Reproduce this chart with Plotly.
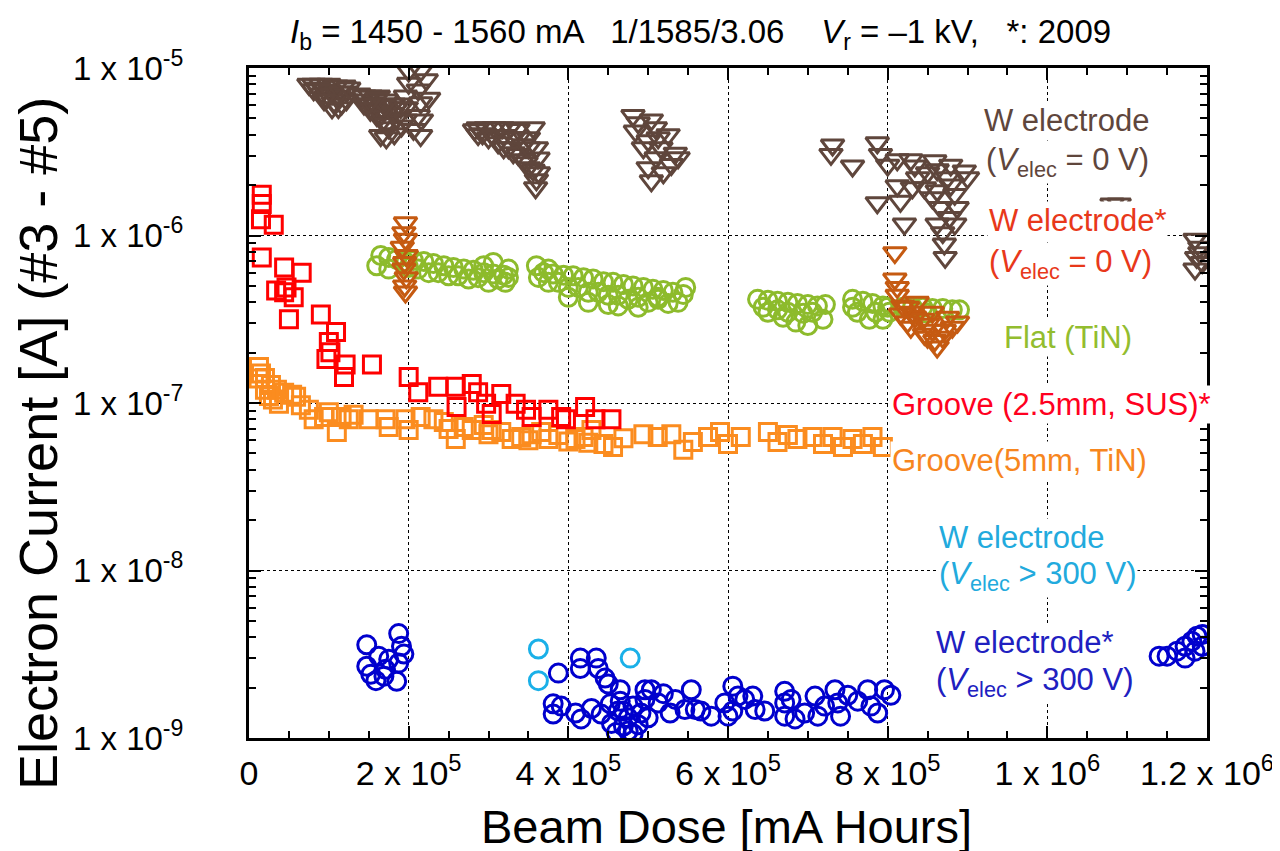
import plotly.graph_objects as go

# ---------------- data (Beam dose [mA h], electron current [A]) ----------------
w0_x = [81e3, 90e3, 100e3, 109e3, 119e3, 122e3, 81e3, 90e3, 97e3, 106e3, 112e3, 102e3, 112e3, 122e3, 116e3,
        85e3, 94e3, 104e3, 115e3, 125e3, 94e3, 104e3, 75e3,
        144e3, 152e3, 162e3, 172e3, 181e3, 190e3, 144e3, 152e3, 160e3, 167e3, 175e3, 165e3, 172e3, 185e3, 191e3, 182e3, 156e3, 169e3,
        137.5e3, 147.5e3, 157.5e3, 165e3, 172.5e3, 180e3, 187.5e3, 160e3, 170e3, 150e3,
        200e3, 215e3, 222e3, 200e3, 212e3, 196e3, 215e3, 225e3, 197e3, 212e3, 196e3, 216e3, 206e3, 215e3,
        287e3, 297e3, 307e3, 317e3, 327e3, 337e3, 287e3, 300e3, 312e3, 325e3, 337e3, 347e3, 356e3, 360e3, 359e3, 350e3, 360e3, 362e3, 344e3, 331e3, 319e3, 356e3,
        282.5e3, 292.5e3, 306e3, 319e3, 331e3, 344e3, 350e3, 337.5e3, 350e3, 362.5e3,
        481e3, 504e3, 484e3, 525e3, 534e3, 516e3, 500e3, 504e3, 529e3, 500e3, 509e3,
        487.5e3, 512.5e3, 494e3, 537.5e3, 510e3, 519e3,
        731e3, 729e3, 756e3, 787e3, 791e3, 800e3, 812e3, 829e3, 834e3, 859e3, 862e3, 879e3, 896e3, 900e3, 812e3, 831e3, 787e3, 816e3, 821e3,
        862e3, 884e3, 866e3, 887e3, 862e3, 884e3, 871e3, 872e3, 846e3, 879e3,
        850e3, 875e3, 856e3, 877.5e3, 869e3, 837.5e3,
        1081e3, 1090e3,
        1185e3, 1191e3, 1187e3, 1194e3, 1185e3, 1191e3]
w0_y = [8.0e-6, 8.0e-6, 8.0e-6, 7.8e-6, 7.8e-6, 7.2e-6, 7.4e-6, 7.0e-6, 6.6e-6, 6.2e-6, 5.8e-6, 7.2e-6, 6.8e-6, 6.45e-6, 6.1e-6,
        7.6e-6, 7.4e-6, 7.0e-6, 7.2e-6, 7.6e-6, 6.45e-6, 5.78e-6, 8.0e-6,
        6.8e-6, 6.8e-6, 6.8e-6, 6.45e-6, 6.1e-6, 5.8e-6, 6.1e-6, 5.6e-6, 5.2e-6, 4.8e-6, 4.4e-6, 3.95e-6, 3.83e-6, 5.0e-6, 4.5e-6, 4.05e-6, 6.2e-6, 5.55e-6,
        7.0e-6, 6.45e-6, 5.78e-6, 5.2e-6, 4.65e-6, 5.35e-6, 6.1e-6, 6.63e-6, 5.95e-6, 6.1e-6,
        9.6e-6, 9.6e-6, 8.5e-6, 8.1e-6, 7.4e-6, 6.8e-6, 6.2e-6, 6.6e-6, 5.8e-6, 5.2e-6, 4.9e-6, 4.9e-6, 4.3e-6, 3.95e-6,
        4.4e-6, 4.4e-6, 4.4e-6, 4.4e-6, 4.4e-6, 4.3e-6, 4.0e-6, 3.83e-6, 3.58e-6, 3.34e-6, 3.05e-6, 2.72e-6, 2.45e-6, 2.15e-6, 1.93e-6, 3.83e-6, 3.34e-6, 2.9e-6, 3.48e-6, 3.83e-6, 3.95e-6, 4.4e-6,
        4.28e-6, 4.05e-6, 3.95e-6, 3.34e-6, 3.12e-6, 2.83e-6, 2.54e-6, 3.83e-6, 3.34e-6, 2.37e-6,
        5.2e-6, 4.9e-6, 4.2e-6, 4.0e-6, 3.1e-6, 3.34e-6, 2.54e-6, 2.12e-6, 2.65e-6, 3.68e-6, 4.4e-6,
        4.71e-6, 3.83e-6, 3.34e-6, 2.91e-6, 2.91e-6, 2.37e-6,
        3.47e-6, 3.05e-6, 2.6e-6, 3.58e-6, 3.05e-6, 2.63e-6, 2.83e-6, 2.83e-6, 2.6e-6, 2.79e-6, 2.47e-6, 2.63e-6, 2.43e-6, 2.21e-6, 1.98e-6, 1.93e-6, 1.57e-6, 1.6e-6, 1.17e-6,
        1.85e-6, 1.76e-6, 1.47e-6, 1.47e-6, 1.17e-6, 1.17e-6, 8.9e-7, 7.4e-7, 1.93e-6, 2.0e-6,
        2.37e-6, 2.21e-6, 1.68e-6, 1.28e-6, 1.04e-6, 2.21e-6,
        1.54e-6, 1.54e-6,
        9.5e-7, 8.5e-7, 7.4e-7, 6.9e-7, 6.3e-7, 7.9e-7]

w0s_x = [196e3, 194e3, 196e3, 192e3, 197e3, 195e3, 194e3, 197e3, 195e3, 196e3,
         809e3, 809e3, 812e3, 812e3, 825e3, 834e3, 850e3, 859e3, 871e3, 881e3, 862e3, 846e3, 829e3, 816e3, 837e3, 856e3, 875e3,
         819e3, 831e3, 844e3, 856e3, 869e3, 850e3, 887.5e3, 825e3]
w0s_y = [1.19e-6, 1.04e-6, 9.5e-7, 8.5e-7, 7.6e-7, 6.9e-7, 6.3e-7, 5.6e-7, 5.0e-7, 4.6e-7,
         7.9e-7, 5.5e-7, 4.9e-7, 4.4e-7, 3.73e-7, 3.25e-7, 2.95e-7, 2.36e-7, 2.72e-7, 2.83e-7, 2.16e-7, 2.57e-7, 2.83e-7, 3.4e-7, 3.99e-7, 3.48e-7, 3.25e-7,
         3.8e-7, 3.48e-7, 3.16e-7, 2.72e-7, 2.47e-7, 2.47e-7, 3.04e-7, 3.04e-7]

flat_x = [165e3, 175e3, 185e3, 195e3, 206e3, 219e3, 231e3, 244e3, 256e3, 269e3, 281e3, 294e3, 306e3, 319e3, 325e3, 306e3, 212e3, 237e3, 262e3, 287e3, 312e3, 321e3, 294e3,
          175e3, 200e3, 225e3, 250e3, 275e3, 300e3, 160e3, 325e3,
          360e3, 369e3, 381e3, 394e3, 406e3, 419e3, 431e3, 444e3, 456e3, 469e3, 481e3, 494e3, 506e3, 519e3, 531e3, 544e3, 547e3, 375e3, 400e3, 425e3, 450e3, 475e3, 500e3, 525e3, 400e3, 450e3, 512e3,
          362.5e3, 387.5e3, 412.5e3, 437.5e3, 462.5e3, 487.5e3, 512.5e3, 537.5e3, 462.5e3, 487.5e3, 425e3, 375e3,
          637e3, 650e3, 662e3, 675e3, 687e3, 700e3, 712e3, 722e3, 650e3, 669e3, 685e3, 700e3, 694e3, 662e3,
          644e3, 675e3, 706e3, 719e3,
          756e3, 769e3, 781e3, 794e3, 800e3, 762e3, 777e3, 794e3, 802e3, 756e3, 785e3,
          819e3, 831e3, 844e3, 856e3, 869e3, 881e3, 890e3, 850e3]
flat_y = [7.6e-7, 7.4e-7, 7.2e-7, 7.0e-7, 7.1e-7, 7.0e-7, 6.8e-7, 6.6e-7, 6.45e-7, 6.3e-7, 6.2e-7, 6.0e-7, 5.9e-7, 5.8e-7, 6.3e-7, 6.9e-7, 6.3e-7, 6.0e-7, 5.75e-7, 5.6e-7, 5.5e-7, 5.25e-7, 6.6e-7,
          6.3e-7, 6.45e-7, 6.0e-7, 5.75e-7, 5.5e-7, 5.25e-7, 6.6e-7, 5.62e-7,
          6.6e-7, 6.0e-7, 5.9e-7, 5.8e-7, 5.75e-7, 5.6e-7, 5.5e-7, 5.3e-7, 5.25e-7, 5.1e-7, 5.0e-7, 4.9e-7, 4.77e-7, 4.7e-7, 4.58e-7, 4.45e-7, 4.9e-7, 5.25e-7, 4.9e-7, 4.58e-7, 4.4e-7, 4.16e-7, 3.99e-7, 3.93e-7, 4.28e-7, 3.87e-7, 4.28e-7,
          5.62e-7, 5.25e-7, 4.9e-7, 4.58e-7, 4.4e-7, 4.28e-7, 4.16e-7, 3.99e-7, 3.8e-7, 3.73e-7, 3.99e-7, 6.3e-7,
          4.16e-7, 4.1e-7, 4.05e-7, 3.99e-7, 3.93e-7, 3.87e-7, 3.8e-7, 3.87e-7, 3.48e-7, 3.25e-7, 3.04e-7, 2.9e-7, 3.43e-7, 3.6e-7,
          3.73e-7, 3.48e-7, 3.48e-7, 3.16e-7,
          4.16e-7, 4.05e-7, 3.93e-7, 3.8e-7, 3.73e-7, 3.48e-7, 3.16e-7, 3.16e-7, 3.48e-7, 3.73e-7, 3.48e-7,
          3.73e-7, 3.73e-7, 3.73e-7, 3.67e-7, 3.67e-7, 3.6e-7, 3.6e-7, 3.43e-7]

sus_x = [16e3, 16e3, 15e3, 31e3, 16e3, 44e3, 66e3, 34e3, 47e3, 50e3, 90e3, 109e3, 100e3, 102e3, 97e3, 121e3, 119e3, 154e3,
         200e3, 212e3, 237e3, 259e3, 260e3, 279e3, 287e3, 297e3, 304e3, 316e3, 334e3, 347e3, 354e3, 375e3, 391e3, 397e3, 421e3, 434e3, 454e3, 44e3, 56e3]
sus_y = [1.75e-6, 1.54e-6, 1.25e-6, 1.16e-6, 7.4e-7, 6.45e-7, 6.0e-7, 4.7e-7, 4.9e-7, 3.16e-7, 3.38e-7, 2.65e-7, 2.31e-7, 2.01e-7, 1.83e-7, 1.7e-7, 1.43e-7, 1.7e-7,
         1.43e-7, 1.16e-7, 1.25e-7, 1.25e-7, 9.46e-8, 1.3e-7, 1.16e-7, 9.9e-8, 8.6e-8, 1.13e-7, 9.9e-8, 9.1e-8, 8.25e-8, 9.1e-8, 8.25e-8, 8.0e-8, 9.46e-8, 8.0e-8, 8.0e-8, 4.58e-7, 4.28e-7]

tin_x = [12.5e3, 15e3, 20e3, 27.5e3, 35e3, 44e3, 54e3, 37.5e3, 59e3, 65e3, 75e3, 81e3, 94e3, 110e3, 116e3, 131e3, 150e3, 171e3, 196e3, 200e3,
         215e3, 231e3, 244e3, 259e3, 269e3, 279e3, 294e3, 304e3, 316e3, 329e3, 341e3, 354e3, 366e3, 375e3, 387.5e3, 409e3, 419e3, 429e3, 444e3, 456e3,
         469e3, 494e3, 512e3, 529e3, 544e3, 556e3, 575e3, 590e3, 600e3, 616e3, 650e3, 662e3, 675e3, 687e3, 706e3, 719e3, 731e3, 744e3, 756e3, 769e3, 781e3, 794e3,
         100e3, 125e3, 175e3, 250e3, 300e3, 350e3, 400e3, 425e3, 12e3, 20e3, 30e3, 25e3]
tin_y = [1.64e-7, 1.5e-7, 1.41e-7, 1.28e-7, 1.2e-7, 1.15e-7, 1.12e-7, 9.9e-8, 1.09e-7, 9.7e-8, 9.1e-8, 8.0e-8, 8.25e-8, 6.72e-8, 8.25e-8, 8.5e-8, 8.0e-8, 8.0e-8, 8.0e-8, 6.9e-8,
         8.25e-8, 8.0e-8, 7.7e-8, 6.1e-8, 7.19e-8, 6.9e-8, 7.4e-8, 6.9e-8, 6.72e-8, 6.1e-8, 6.27e-8, 6.5e-8, 6.72e-8, 6.1e-8, 6.45e-8, 6.1e-8, 6.27e-8, 6.9e-8, 5.7e-8, 5.47e-8,
         6.15e-8, 6.5e-8, 6.27e-8, 6.5e-8, 5.25e-8, 5.86e-8, 6.27e-8, 6.72e-8, 5.7e-8, 6.27e-8, 6.72e-8, 5.86e-8, 6.45e-8, 6.1e-8, 6.27e-8, 5.7e-8, 6.27e-8, 5.47e-8, 6.1e-8, 5.7e-8, 6.27e-8, 5.47e-8,
         8.8e-8, 8.0e-8, 7.2e-8, 7.0e-8, 6.5e-8, 6.0e-8, 5.9e-8, 5.8e-8, 1.4e-7, 1.2e-7, 1.05e-7, 1.1e-7]

whv_x = [362.5e3, 362.5e3, 477.5e3]
whv_y = [3.4e-9, 2.2e-9, 3.0e-9]

whvs_x = [147.5e3, 147.5e3, 159e3, 171e3, 187.5e3, 191e3, 187.5e3, 185e3, 152.5e3, 175e3, 162.5e3, 194e3, 169e3,
          387.5e3, 415e3, 415e3, 435e3, 437.5e3, 446e3, 450e3, 465e3, 381e3, 381e3, 391e3, 409e3, 416e3, 429e3, 441e3, 452.5e3, 454e3, 460e3,
          475e3, 487.5e3, 491e3, 496e3, 504e3, 496e3, 512.5e3, 519e3, 527.5e3, 534e3, 546e3, 554e3, 559e3, 566e3, 579e3, 596e3, 600e3, 606e3,
          612.5e3, 621e3, 634e3, 646e3, 671e3, 671e3, 671e3, 679e3, 684e3, 696e3, 709e3, 712.5e3, 721e3, 734e3, 737.5e3, 741e3, 750e3, 762.5e3,
          775e3, 779e3, 787.5e3, 796e3, 804e3, 469e3, 481e3, 475e3, 465e3,
          469e3, 481e3, 462.5e3, 500e3, 631e3, 606e3,
          1140e3, 1150e3, 1162.5e3, 1172.5e3, 1181e3, 1187.5e3, 1194e3, 1172.5e3, 1185e3, 1194e3]
whvs_y = [3.6e-9, 2.68e-9, 2.2e-9, 2.57e-9, 4.2e-9, 3.53e-9, 2.8e-9, 2.18e-9, 2.4e-9, 2.95e-9, 3.08e-9, 3.17e-9, 2.34e-9,
          2.44e-9, 3.0e-9, 2.6e-9, 3.0e-9, 2.6e-9, 2.28e-9, 2.1e-9, 1.94e-9, 1.6e-9, 1.39e-9, 1.55e-9, 1.41e-9, 1.3e-9, 1.5e-9, 1.39e-9, 1.6e-9, 1.22e-9, 1.08e-9,
          1.1e-9, 1.2e-9, 1.41e-9, 1.7e-9, 1.94e-9, 1.94e-9, 1.62e-9, 1.84e-9, 1.41e-9, 1.7e-9, 1.48e-9, 1.94e-9, 1.48e-9, 1.45e-9, 1.35e-9, 1.62e-9, 1.35e-9, 2.04e-9,
          1.78e-9, 1.7e-9, 1.48e-9, 1.45e-9, 1.9e-9, 1.62e-9, 1.35e-9, 1.7e-9, 1.3e-9, 1.41e-9, 1.78e-9, 1.35e-9, 1.55e-9, 1.94e-9, 1.62e-9, 1.35e-9, 1.8e-9, 1.66e-9,
          1.94e-9, 1.55e-9, 1.41e-9, 1.94e-9, 1.8e-9, 1.45e-9, 1.55e-9, 1.32e-9, 1.66e-9,
          1.18e-9, 1.06e-9, 1.45e-9, 1.32e-9, 1.78e-9, 1.45e-9,
          3.08e-9, 3.08e-9, 3.3e-9, 3.53e-9, 3.78e-9, 4.05e-9, 4.15e-9, 3.0e-9, 3.3e-9, 3.53e-9]

x_tickvals = [0, 2e5, 4e5, 6e5, 8e5, 1e6, 1.2e6]
x_ticktext = ["0", "2 x 10<sup>5</sup>", "4 x 10<sup>5</sup>", "6 x 10<sup>5</sup>",
              "8 x 10<sup>5</sup>", "1 x 10<sup>6</sup>", "1.2 x 10<sup>6</sup>"]
y_tickvals = [1e-9, 1e-8, 1e-7, 1e-6, 1e-5]
y_ticktext = ["1 x 10<sup>-9</sup>", "1 x 10<sup>-8</sup>", "1 x 10<sup>-7</sup>",
              "1 x 10<sup>-6</sup>", "1 x 10<sup>-5</sup>"]

# ---------------- styling ----------------
FONT = "Liberation Sans, Arial, sans-serif"
C_BROWN = "#5f463c"
C_OBROWN = "#c55a11"
C_GREEN = "#8dbb2c"
C_RED = "#ff0000"
C_ORANGE = "#fb8c1f"
C_CYAN = "#1ab0e8"
C_BLUE = "#0000cd"

series = [
    (tin_x, tin_y, "square-open", C_ORANGE, 17),
    (sus_x, sus_y, "square-open", C_RED, 17),
    (flat_x, flat_y, "circle-open", C_GREEN, 18),
    (w0s_x, w0s_y, "triangle-down-open", C_OBROWN, 20),
    (w0_x, w0_y, "triangle-down-open", C_BROWN, 20),
    (whv_x, whv_y, "circle-open", C_CYAN, 18),
    (whvs_x, whvs_y, "circle-open", C_BLUE, 18),
]

fig = go.Figure()
for xs, ys, sym, col, sz in series:
    fig.add_trace(go.Scatter(x=xs, y=ys, mode="markers",
                             marker=dict(symbol=sym, size=sz, color=col,
                                         line=dict(color=col, width=3)),
                             showlegend=False, hoverinfo="skip"))

axis_common = dict(showline=True, linewidth=3, linecolor="black", mirror="ticks",
                   ticks="inside", ticklen=12, tickwidth=2, tickcolor="black",
                   showgrid=True, gridcolor="black", griddash="dot", gridwidth=1,
                   zeroline=False)

fig.update_xaxes(range=[0, 1.2e6], tickmode="array", tickvals=x_tickvals, ticktext=x_ticktext,
                 minor=dict(dtick=5e4, ticks="inside", ticklen=7, tickwidth=1.5,
                            tickcolor="black", showgrid=False),
                 tickfont=dict(family=FONT, size=34, color="black"),
                 ticklabelstandoff=3, **axis_common)
fig.update_yaxes(type="log", range=[-9, -5], tickmode="array", tickvals=y_tickvals,
                 ticktext=y_ticktext,
                 minor=dict(dtick="D1", ticks="inside", ticklen=7, tickwidth=1.5,
                            tickcolor="black", showgrid=False),
                 tickfont=dict(family=FONT, size=33, color="black"),
                 ticklabelstandoff=56, **axis_common)

L, R, T, B = 241, 81, 60, 121
PW, PH = 1280 - L - R, 851 - T - B


def px_x(px):
    return (px - L) / PW


def px_y(py):
    return (851 - B - py) / PH


ann = []
ann.append(dict(text="Beam Dose [mA Hours]", x=px_x(718), y=px_y(818), font=dict(size=47)))
ann.append(dict(text="Electron Current [A] (#3 - #5)", x=px_x(30), y=px_y(436),
                textangle=-90, font=dict(size=54)))
ann.append(dict(text="<i>I</i><sub>b</sub> = 1450 - 1560 mA   1/1585/3.06    "
                     "<i>V</i><sub>r</sub> = \u20131 kV,   *: 2009",
                x=px_x(280), y=px_y(3), xanchor="left", yanchor="top", font=dict(size=33)))

labels = [
    ("W electrode", C_BROWN, 974, 113),
    ("(<i>V</i><sub>elec</sub> = 0 V)", C_BROWN, 976, 154),
    ("W electrode*", "#e8381a", 979, 213),
    ("(<i>V</i><sub>elec</sub> = 0 V)", "#e8381a", 979, 256),
    ("Flat (TiN)", "#93bd2f", 994, 329),
    ("Groove (2.5mm, SUS)*", "#ff0020", 882, 396),
    ("Groove(5mm, TiN)", "#f7861e", 882, 452),
    ("W electrode", "#22aadd", 929, 529),
    ("(<i>V</i><sub>elec</sub> &gt; 300 V)", "#22aadd", 929, 568),
    ("W electrode*", "#2020c0", 926, 634),
    ("(<i>V</i><sub>elec</sub> &gt; 300 V)", "#2020c0", 926, 674),
]
for txt, col, lx, ly in labels:
    ann.append(dict(text=txt, x=px_x(lx), y=px_y(ly), xanchor="left",
                    font=dict(size=31, color=col), bgcolor="white", borderpad=1))

for a in ann:
    a.setdefault("xref", "paper")
    a.setdefault("yref", "paper")
    a.setdefault("showarrow", False)
    a.setdefault("xanchor", "center")
    a.setdefault("yanchor", "middle")
    f = a["font"]
    f.setdefault("family", FONT)
    f.setdefault("color", "black")
    fig.add_annotation(**a)

fig.update_layout(width=1280, height=851, margin=dict(l=L, r=R, t=T, b=B),
                  plot_bgcolor="white", paper_bgcolor="white",
                  font=dict(family=FONT, color="black"), showlegend=False)

fig.write_html("out.html")
